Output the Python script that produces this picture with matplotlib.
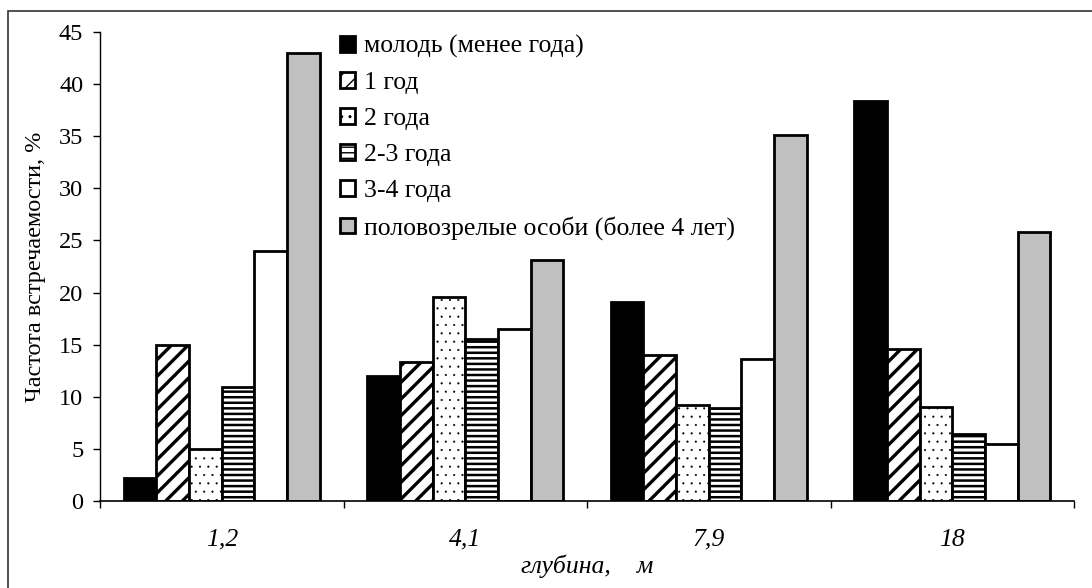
import matplotlib
matplotlib.use("Agg")
import matplotlib.pyplot as plt
from matplotlib.patches import Rectangle
import numpy as np

plt.rcParams["font.family"] = ["Liberation Serif", "DejaVu Serif"]

# ---- data ----
depths = ["1,2", "4,1", "7,9", "18"]
groups = ["молодь (менее года)", "1 год", "2 года", "2-3 года", "3-4 года",
          "половозрелые особи (более 4 лет)"]
young = [2.2, 12.0, 19.1, 38.4]
age_1 = [15.0, 13.3, 14.0, 14.6]
age_2 = [5.0, 19.6, 9.2, 9.0]
age_2_3 = [10.9, 15.5, 8.9, 6.4]
age_3_4 = [24.0, 16.5, 13.6, 5.5]
mature = [43.0, 23.1, 35.1, 25.8]
series = [young, age_1, age_2, age_2_3, age_3_4, mature]

# ---- style per series: (face, hatch, hatch lw) ----
styles = [
    ("black", None, 1.0),
    ("white", "//", 2.4),
    ("white", "..", 0.3),
    ("white", "---", 1.8),
    ("white", None, 1.0),
    ("#c0c0c0", None, 1.0),
]

fig = plt.figure(figsize=(10.92, 5.88), dpi=100)
ax = fig.add_axes([100 / 1092, 1 - 501 / 588, 974 / 1092, 469 / 588])

x = np.arange(len(depths))
w = 0.134
for i, (vals, (fc, hatch, hlw)) in enumerate(zip(series, styles)):
    with plt.rc_context({"hatch.linewidth": hlw}):
        ax.bar(x + (i - 2.5) * w, vals, w, color=fc, edgecolor="black",
               linewidth=2.0, hatch=hatch, label=groups[i], zorder=2)

ax.set_xlim(-0.5, 3.5)
ax.set_ylim(0, 45)
ax.set_yticks(range(0, 46, 5))
ax.tick_params(axis="y", labelsize=17.5, length=5, width=1, pad=7)
ax.set_xticks(x)
ax.set_xticklabels(depths, style="italic")
ax.tick_params(axis="x", which="major", length=0, labelsize=18.5, pad=20)
ax.set_xticks(np.arange(-0.5, 4, 1), minor=True)
ax.tick_params(axis="x", which="minor", length=5, width=1)

for s in ["top", "right"]:
    ax.spines[s].set_visible(False)
ax.spines["left"].set_linewidth(1)
ax.spines["bottom"].set_linewidth(1.2)

ax.set_ylabel("Частота встречаемости, %", fontsize=17.5, labelpad=9)
ax.set_xlabel("глубина,    м", fontsize=18.5, style="italic", labelpad=3)

ax.legend(loc="upper left", bbox_to_anchor=(340 / 1092, 1 - 35 / 588),
          bbox_transform=fig.transFigure, frameon=False, fontsize=18.5,
          handlelength=0.57, handleheight=0.57, handletextpad=0.35,
          labelspacing=0.545, borderpad=0, borderaxespad=0)

# outer frame (cropped on right/bottom)
fig.patches.append(Rectangle((8 / 1092, -0.05), 1.1, 1 - 11 / 588 + 0.05,
                             transform=fig.transFigure, fill=False,
                             edgecolor="#333333", linewidth=1.2))

fig.savefig("out.png", dpi=100)
